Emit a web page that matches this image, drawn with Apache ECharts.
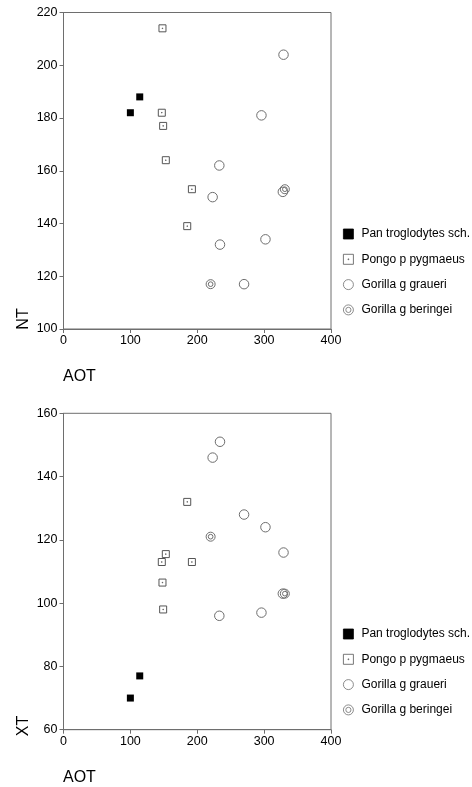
<!DOCTYPE html>
<html>
<head>
<meta charset="utf-8">
<script src="https://cdn.jsdelivr.net/npm/echarts@6/dist/echarts.min.js"></script>
<style>
  html, body { margin: 0; padding: 0; background: #fff; }
  #chart { width: 472px; height: 787px; }
</style>
</head>
<body>
<div id="chart"></div>
<script>
var seriesNames = ['Pan troglodytes sch.', 'Pongo p pygmaeus', 'Gorilla g graueri', 'Gorilla g beringei'];

// Pan troglodytes sch.
var panAOT = [100, 114];
var panNT = [182, 188];
var panXT = [70, 77];
// Pongo p pygmaeus
var pongoAOT = [148, 147, 149, 153, 192, 185];
var pongoNT = [214, 182, 177, 164, 153, 139];
var pongoXT = [106.5, 113, 98, 115.5, 113, 132];
// Gorilla g graueri
var graueriAOT = [329, 296, 233, 223, 328, 234, 302, 270];
var graueriNT = [204, 181, 162, 150, 152, 132, 134, 117];
var graueriXT = [116, 97, 96, 146, 103, 151, 124, 128];
// Gorilla g beringei
var beringeiAOT = [220, 331];
var beringeiNT = [117, 153];
var beringeiXT = [121, 103];

var xTicks = [0, 100, 200, 300, 400];
var ntTicks = [100, 120, 140, 160, 180, 200, 220];
var xtTicks = [60, 80, 100, 120, 140, 160];

function pairs(xs, ys) {
  return xs.map(function (x, i) { return [x, ys[i]]; });
}

var FONT = "'Liberation Sans', Arial, sans-serif";
var GRAY = '#6e6e6e';

var symbols = [
  { symbol: 'rect', size: 7, color: '#000', border: '#000', bw: 0 },
  { symbol: 'path://M0,0H10V10H0Z M4.6,4.6H5.4V5.4H4.6Z', size: 7, color: 'transparent', border: '#555', bw: 1 },
  { symbol: 'circle', size: 9.5, color: 'transparent', border: GRAY, bw: 1 },
  { symbol: 'path://M0,5A5,5 0 1,0 10,5A5,5 0 1,0 0,5Z M2.4,5A2.6,2.6 0 1,0 7.6,5A2.6,2.6 0 1,0 2.4,5Z', size: 9, color: 'transparent', border: GRAY, bw: 1 }
];

var dataTop = [pairs(panAOT, panNT), pairs(pongoAOT, pongoNT), pairs(graueriAOT, graueriNT), pairs(beringeiAOT, beringeiNT)];
var dataBottom = [pairs(panAOT, panXT), pairs(pongoAOT, pongoXT), pairs(graueriAOT, graueriXT), pairs(beringeiAOT, beringeiXT)];

function makeSeries(data, idx) {
  return data.map(function (d, i) {
    var s = symbols[i];
    return {
      name: seriesNames[i],
      type: 'scatter',
      xAxisIndex: idx,
      yAxisIndex: idx,
      symbol: s.symbol,
      symbolSize: s.size,
      itemStyle: { color: s.color, borderColor: s.border, borderWidth: s.bw, opacity: 1 },
      emphasis: { disabled: true },
      data: d
    };
  });
}

function xAxisCfg(idx) {
  return {
    gridIndex: idx, type: 'value', min: xTicks[0], max: xTicks[xTicks.length - 1], interval: 100,
    axisLine: { lineStyle: { color: GRAY, width: 1 } },
    axisTick: { show: true, length: 4, lineStyle: { color: GRAY } },
    axisLabel: { color: '#000', fontSize: 12.5, fontFamily: FONT, margin: 5 },
    splitLine: { show: false }
  };
}

function yAxisCfg(idx, ticks) {
  return {
    gridIndex: idx, type: 'value', min: ticks[0], max: ticks[ticks.length - 1], interval: 20,
    axisLine: { show: true, lineStyle: { color: GRAY, width: 1 } },
    axisTick: { show: true, length: 4, lineStyle: { color: GRAY } },
    axisLabel: { color: '#000', fontSize: 12.5, fontFamily: FONT, margin: 6 },
    splitLine: { show: false }
  };
}

function legendCfg(top) {
  return {
    data: seriesNames,
    orient: 'vertical',
    left: 343,
    top: top,
    padding: 0,
    itemWidth: 10,
    itemHeight: 10,
    itemGap: 13.3,
    selectedMode: false,
    itemStyle: { borderWidth: 0.8 },
    textStyle: { color: '#000', fontSize: 12, fontFamily: FONT, padding: [0, 0, 0, 3] }
  };
}

function axisText(text, x, y, rot) {
  return {
    type: 'text', x: x, y: y, rotation: rot,
    style: { text: text, fontSize: 16, fontFamily: FONT, fill: '#000', align: rot ? 'center' : 'left', verticalAlign: 'middle' }
  };
}

var chart = echarts.init(document.getElementById('chart'));
chart.setOption({
  backgroundColor: '#fff',
  animation: false,
  grid: [
    { left: 63.5, top: 12.5, width: 267.5, height: 316.5, show: true, borderColor: GRAY, borderWidth: 1, backgroundColor: 'transparent' },
    { left: 63.5, top: 413.3, width: 267.5, height: 316.4, show: true, borderColor: GRAY, borderWidth: 1, backgroundColor: 'transparent' }
  ],
  xAxis: [xAxisCfg(0), xAxisCfg(1)],
  yAxis: [yAxisCfg(0, ntTicks), yAxisCfg(1, xtTicks)],
  legend: [legendCfg(228), legendCfg(628)],
  graphic: [
    axisText('NT', 24, 319, Math.PI / 2),
    axisText('AOT', 63, 377, 0),
    axisText('XT', 24, 726, Math.PI / 2),
    axisText('AOT', 63, 777.5, 0)
  ],
  series: makeSeries(dataTop, 0).concat(makeSeries(dataBottom, 1))
});
</script>
</body>
</html>
